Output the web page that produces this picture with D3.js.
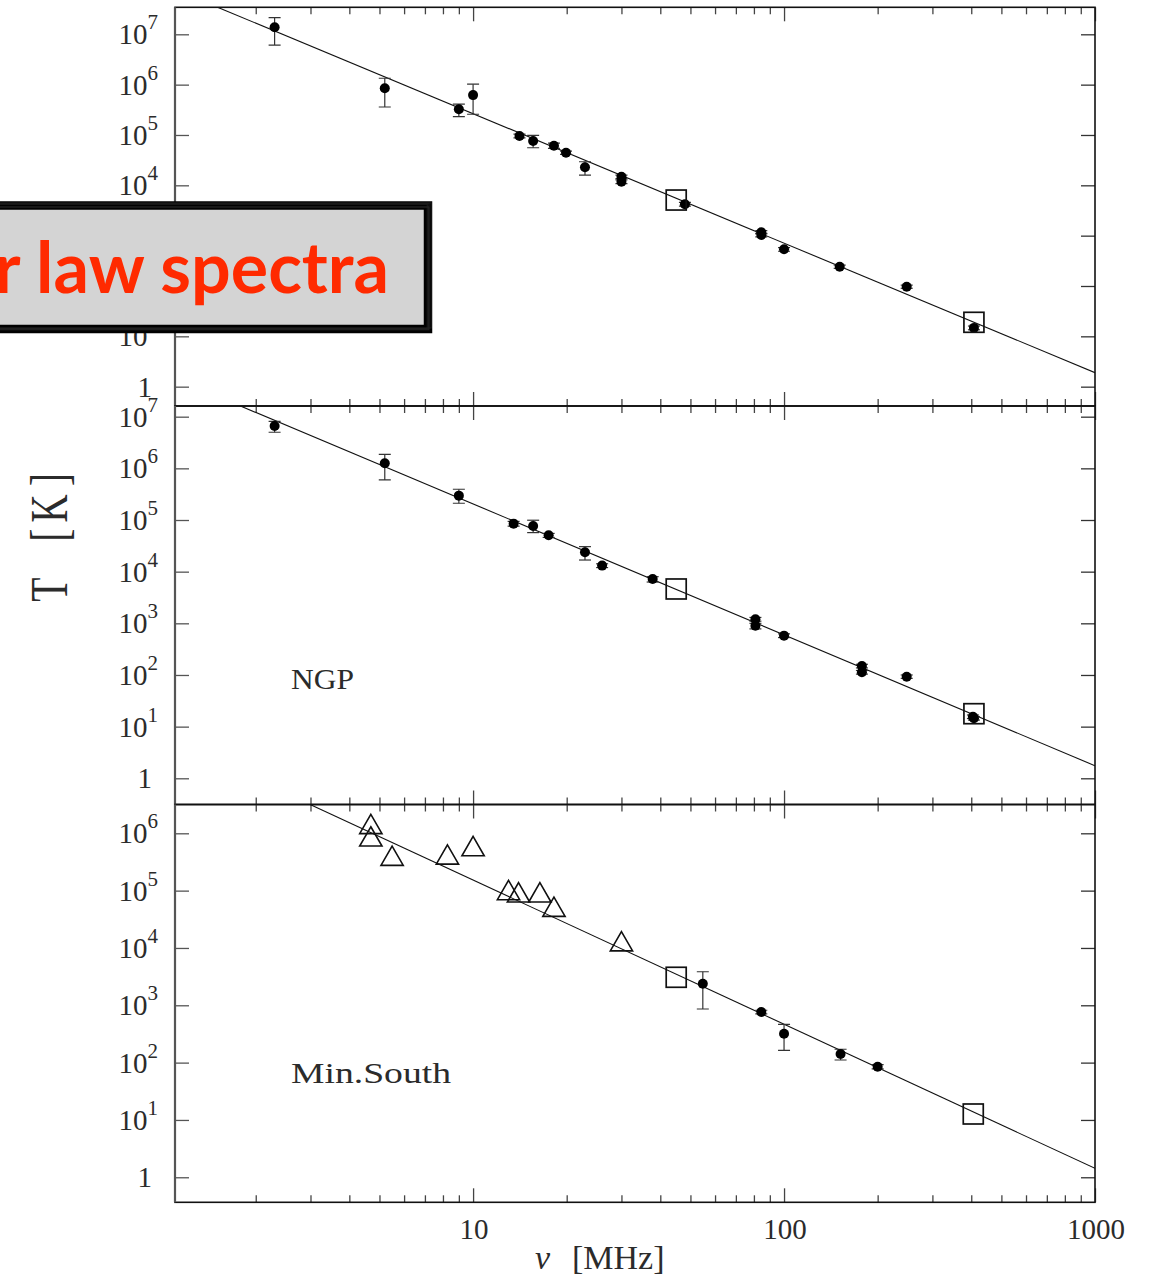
<!DOCTYPE html>
<html><head><meta charset="utf-8">
<script src="https://cdn.jsdelivr.net/npm/d3@7"></script>
<style>body{margin:0;background:#fff}svg{display:block}</style>
</head><body>
<svg id="c" width="1160" height="1274"></svg>
<script>
// ---------------- DATA ----------------
const xDomain = [1.1, 1000];
const xTickMajor = [10, 100, 1000];
const xTickLabels = ["10", "100", "1000"];
const xTickMinor = [2,3,4,5,6,7,8,9,20,30,40,50,60,70,80,90,200,300,400,500,600,700,800,900];
const yTickExponents = [0,1,2,3,4,5,6,7];
// tick labels of the top panel that sit fully behind the overlay box
const topHiddenExponents = [2, 3];
const panelLabels = ["", "NGP", "Min.South"];
const panelYDomains = [[0.413, 3.44e7], [0.311, 1.61e7], [0.366, 3.18e6]];

// top panel
const topDotFreq = [2.3, 5.2, 9.0, 10.0, 14.1, 15.6, 18.2, 19.9, 22.9, 30, 30, 48, 84.5, 84.5, 100, 151, 248, 408];
const topDotT    = [1.38e7, 8.45e5, 3.24e5, 6.2e5, 9.55e4, 7.6e4, 6.12e4, 4.45e4, 2.28e4, 1.48e4, 1.18e4, 4200, 1170, 1030, 536, 242, 96.8, 14.7];
const topDotLo   = [6.1e6, 3.6e5, 2.31e5, 2.58e5, 8.8e4, 5.58e4, 5.4e4, 4.1e4, 1.6e4, 1.36e4, 1.08e4, 3850, 1080, 950, 490, 224, 90, 13.5];
const topDotHi   = [2.14e7, 1.34e6, 4.12e5, 1.02e6, 1.04e5, 9.84e4, 6.9e4, 4.8e4, 2.94e4, 1.6e4, 1.28e4, 4580, 1260, 1110, 580, 260, 104, 16];
const topSquareFreq = [45, 408];
const topSquareT    = [5100, 19.0];
const topTriFreq = [];
const topTriT    = [];
const topLine = [[1, 9.9e7], [1000, 1.9]];

// middle panel (NGP)
const ngpDotFreq = [2.3, 5.2, 9.0, 13.5, 15.6, 17.5, 22.9, 26, 37.8, 80.9, 80.9, 100, 178, 178, 248, 405, 408];
const ngpDotT    = [6.6e6, 1.25e6, 2.96e5, 8.5e4, 7.66e4, 5.06e4, 2.37e4, 1.31e4, 7200, 1200, 900, 577, 149, 113, 92.7, 15.6, 14.5];
const ngpDotLo   = [5.0e6, 5.96e5, 2.11e5, 7.6e4, 5.7e4, 4.6e4, 1.68e4, 1.2e4, 6300, 1100, 780, 530, 137, 104, 86, 14.4, 13.4];
const ngpDotHi   = [8.1e6, 1.87e6, 3.94e5, 9.4e4, 9.9e4, 5.5e4, 3.05e4, 1.42e4, 8000, 1300, 1000, 625, 161, 122, 100, 16.8, 15.7];
const ngpSquareFreq = [45, 408];
const ngpSquareT    = [4620, 17.8];
const ngpTriFreq = [];
const ngpTriT    = [];
const ngpLine = [[1, 7.0e7], [1000, 1.75]];

// bottom panel (Min.South)
const southDotFreq = [54.8, 84.5, 100, 152, 200];
const southDotT    = [2380, 764, 319, 141, 84.9];
const southDotLo   = [861, 710, 163, 111, 78];
const southDotHi   = [3850, 820, 463, 171, 92];
const southSquareFreq = [45, 406];
const southSquareT    = [3080, 12.7];
const southTriFreq = [4.69, 4.69, 5.49, 8.27, 10.0, 13.0, 14.0, 16.4, 18.2, 30];
const southTriT    = [1.28e6, 7.76e5, 3.57e5, 3.75e5, 5.26e5, 9.0e4, 8.2e4, 8.2e4, 4.6e4, 1.15e4];
const southLine = [[1, 5.0e7], [1000, 1.43]];

const boxTitle = "Power law spectra";
const xTitleSymbol = "ν";
const xTitleUnit = "[MHz]";
const yTitleParts = ["T", "[", "K", "]"];

// ---------------- LAYOUT ----------------
const svg = d3.select("#c");
const L = 175, R = 1095;
const panelTops = [7.3, 406, 804.5];
const panelBottoms = [406, 804.5, 1202.3];
const serif = "'Liberation Serif', 'DejaVu Serif', serif";
const textCol = "#2b2b2b";

const x = d3.scaleLog().domain(xDomain).range([L, R]);

const panels = [
  {dotF: topDotFreq, dotT: topDotT, lo: topDotLo, hi: topDotHi, sqF: topSquareFreq, sqT: topSquareT, trF: topTriFreq, trT: topTriT, line: topLine, hide: topHiddenExponents},
  {dotF: ngpDotFreq, dotT: ngpDotT, lo: ngpDotLo, hi: ngpDotHi, sqF: ngpSquareFreq, sqT: ngpSquareT, trF: ngpTriFreq, trT: ngpTriT, line: ngpLine, hide: []},
  {dotF: southDotFreq, dotT: southDotT, lo: southDotLo, hi: southDotHi, sqF: southSquareFreq, sqT: southSquareT, trF: southTriFreq, trT: southTriT, line: southLine, hide: []}
];

const defs = svg.append("defs");

panels.forEach((p, i) => {
  const y0 = panelTops[i], y1 = panelBottoms[i];
  const y = d3.scaleLog().domain(panelYDomains[i]).range([y1, y0]);
  const g = svg.append("g");
  const clipId = "clip" + i;
  defs.append("clipPath").attr("id", clipId).append("rect")
    .attr("x", L).attr("y", y0).attr("width", R - L).attr("height", y1 - y0);

  const decades = yTickExponents.map(e => Math.pow(10, e))
    .filter(v => v >= panelYDomains[i][0] && v <= panelYDomains[i][1]);

  const ticksStyle = sel => {
    sel.select(".domain").remove();
    sel.selectAll(".tick line").attr("stroke-width", 1.3);
  };
  g.append("g").attr("transform", `translate(${L},0)`)
    .call(d3.axisLeft(y).tickValues(decades).tickSize(-14).tickFormat(""))
    .call(ticksStyle).selectAll(".tick line").attr("stroke", "#555");
  g.append("g").attr("transform", `translate(${R},0)`)
    .call(d3.axisRight(y).tickValues(decades).tickSize(-14).tickFormat(""))
    .call(ticksStyle).selectAll(".tick line").attr("stroke", "#333");

  [[d3.axisTop, y0], [d3.axisBottom, y1]].forEach(([ax, yy]) => {
    g.append("g").attr("transform", `translate(0,${yy})`)
      .call(ax(x).tickValues(xTickMajor).tickSize(-14).tickFormat(""))
      .call(ticksStyle).selectAll(".tick line").attr("stroke", "#444");
    g.append("g").attr("transform", `translate(0,${yy})`)
      .call(ax(x).tickValues(xTickMinor).tickSize(-7).tickFormat(""))
      .call(ticksStyle).selectAll(".tick line").attr("stroke", "#444");
  });

  g.append("rect").attr("x", L).attr("y", y0).attr("width", R - L).attr("height", y1 - y0)
    .attr("fill", "none").attr("stroke", "#111").attr("stroke-width", 1.6);
  g.append("line").attr("x1", L).attr("x2", L).attr("y1", y0).attr("y2", y1)
    .attr("stroke", "#555").attr("stroke-width", 2.2);

  // y tick labels
  decades.forEach(v => {
    const e = Math.round(Math.log10(v));
    if (p.hide.includes(e)) return;
    const yy = y(v);
    if (e === 0) {
      g.append("text").attr("x", 152).attr("y", yy + 10).attr("text-anchor", "end")
        .attr("font-family", serif).attr("font-size", 29).attr("fill", textCol).text("1");
    } else {
      const t = g.append("text").attr("x", 158).attr("y", yy + 10).attr("text-anchor", "end")
        .attr("font-family", serif).attr("font-size", 29).attr("fill", textCol);
      t.append("tspan").text("10");
      t.append("tspan").attr("dy", -15).attr("font-size", 21).text(String(e));
    }
  });

  const cg = g.append("g").attr("clip-path", `url(#${clipId})`);
  cg.append("path")
    .attr("d", d3.line().x(d => x(d[0])).y(d => y(d[1]))(p.line))
    .attr("fill", "none").attr("stroke", "#111").attr("stroke-width", 1.1);

  const eb = cg.append("g").attr("stroke", "#333").attr("stroke-width", 1.2);
  p.dotF.forEach((f, k) => {
    const cx = x(f), ya = y(p.lo[k]), yb = y(p.hi[k]);
    eb.append("line").attr("x1", cx).attr("x2", cx).attr("y1", ya).attr("y2", yb);
    eb.append("line").attr("x1", cx - 6).attr("x2", cx + 6).attr("y1", ya).attr("y2", ya);
    eb.append("line").attr("x1", cx - 6).attr("x2", cx + 6).attr("y1", yb).attr("y2", yb);
  });
  p.dotF.forEach((f, k) => {
    cg.append("circle").attr("cx", x(f)).attr("cy", y(p.dotT[k])).attr("r", 5).attr("fill", "#000");
  });
  p.sqF.forEach((f, k) => {
    cg.append("rect").attr("x", x(f) - 10).attr("y", y(p.sqT[k]) - 10)
      .attr("width", 20).attr("height", 20)
      .attr("fill", "none").attr("stroke", "#111").attr("stroke-width", 1.7);
  });
  const tri = d3.symbol().type(d3.symbolTriangle).size(215);
  p.trF.forEach((f, k) => {
    cg.append("path").attr("d", tri())
      .attr("transform", `translate(${x(f)},${y(p.trT[k])})`)
      .attr("fill", "none").attr("stroke", "#111").attr("stroke-width", 1.6);
  });

  if (panelLabels[i]) {
    const w = i === 1 ? 63 : 160;
    const yl = i === 1 ? 689.3 : 1083.3;
    g.append("text").attr("x", 291).attr("y", yl)
      .attr("font-family", serif).attr("font-size", 30).attr("fill", textCol)
      .attr("textLength", w).attr("lengthAdjust", "spacingAndGlyphs")
      .text(panelLabels[i]);
  }
});

// x tick labels
xTickMajor.forEach((v, k) => {
  svg.append("text").attr("x", x(v) + 1).attr("y", 1239).attr("text-anchor", "middle")
    .attr("font-family", serif).attr("font-size", 29).attr("fill", textCol).text(xTickLabels[k]);
});

// x title
const xt = svg.append("text").attr("y", 1269).attr("font-family", serif).attr("font-size", 34).attr("fill", textCol);
xt.append("tspan").attr("x", 535).attr("font-style", "italic").text(xTitleSymbol);
xt.append("tspan").attr("x", 572).text(xTitleUnit);

// y title (rotated)
const yt = svg.append("text")
  .attr("transform", "translate(66.7,601.7) rotate(-90) scale(0.76,1)")
  .attr("font-family", serif).attr("font-size", 52).attr("fill", textCol);
const yOffsets = [0, 79, 104, 152];
yTitleParts.forEach((s, k) => yt.append("tspan").attr("x", yOffsets[k]).text(s));

// ---------------- overlay box ----------------
const box = svg.append("g");
box.append("rect").attr("x", -20).attr("y", 205.5).attr("width", 448).attr("height", 123.5)
  .attr("fill", "#d4d4d4").attr("stroke", "#000").attr("stroke-width", 8.5);
[[-1.5, -1.2, 0.8], [1.2, 1.0, -0.6], [-0.6, 2.0, 1.6], [2.2, -1.8, -1.2], [0.8, -2.6, 2.4]].forEach(([dx, dy, dw]) => {
  box.append("rect").attr("x", -20 + dx).attr("y", 205.5 + dy).attr("width", 448 + dw).attr("height", 123.5 - dy * 0.6)
    .attr("fill", "none").attr("stroke", "#222").attr("stroke-width", 1.2).attr("stroke-opacity", 0.7);
});
const boxFont = "'Comic Sans MS', Lato, 'Open Sans', sans-serif";
const bt = box.append("text").attr("x", 389).attr("y", 293).attr("text-anchor", "end")
  .attr("font-family", boxFont).attr("font-weight", 700)
  .attr("font-size", 64).attr("fill", "#ff2a00").text(boxTitle);
const probe = svg.append("text").attr("font-family", boxFont).attr("font-weight", 700)
  .attr("font-size", 64).text("law spectra");
const pw = probe.node().getComputedTextLength();
probe.remove();
if (pw > 0) bt.attr("font-size", 64 * 353 / pw);
</script>
</body></html>
